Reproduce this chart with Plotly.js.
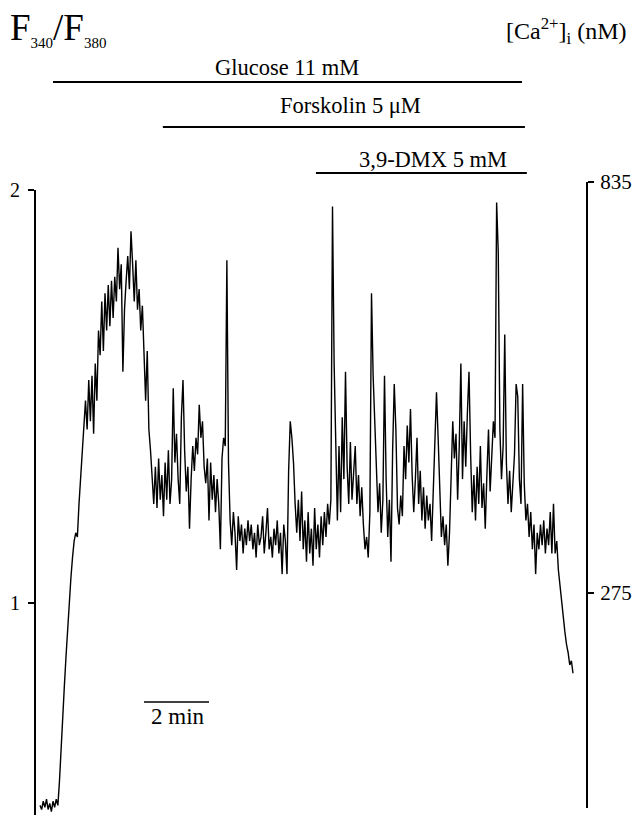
<!DOCTYPE html>
<html><head><meta charset="utf-8">
<script src="https://cdn.plot.ly/plotly-3.0.1.min.js"></script>
<style>html,body{margin:0;padding:0;background:#fff}</style>
</head><body><div id="chart" style="width:637px;height:818px"></div>
<script>
// F340/F380 ratio, sampled every 0.05 min (3 s), starting at t = 0
const ratio = [
0.51,0.50,0.52,0.505,0.525,0.50,0.515,0.495,0.52,0.505,0.525,0.51,
0.57,0.66,0.74,0.80,0.87,0.94,1.01,1.06,1.11,1.15,
1.17,1.16,1.24,1.31,1.38,1.43,
1.49,1.42,1.54,1.44,1.55,1.41,1.58,1.49,1.66,1.60,1.73,1.61,
1.75,1.66,1.77,1.67,1.78,1.69,1.79,1.73,1.86,1.76,
1.82,1.56,1.71,1.78,1.84,1.76,1.90,1.82,1.73,1.83,
1.71,1.76,1.66,1.72,1.59,1.49,1.61,1.42,1.37,1.30,
1.24,1.33,1.23,1.35,1.25,1.31,1.21,1.34,1.25,1.37,
1.24,1.30,1.52,1.34,1.41,1.30,1.24,1.45,1.54,1.37,
1.27,1.33,1.18,1.30,1.38,1.32,1.40,1.36,1.48,1.40,
1.44,1.33,1.29,1.35,1.20,1.34,1.25,1.31,1.22,1.30,
1.24,1.13,1.35,1.40,1.38,1.83,1.34,1.20,1.14,1.22,
1.17,1.08,1.21,1.15,1.19,1.12,1.18,1.14,1.20,1.15,
1.19,1.13,1.17,1.11,1.19,1.14,1.16,1.21,1.12,1.17,
1.23,1.13,1.16,1.11,1.18,1.14,1.20,1.12,1.17,1.07,
1.19,1.15,1.07,1.32,1.44,1.40,1.34,1.24,1.17,1.25,
1.15,1.27,1.13,1.20,1.10,1.22,1.12,1.18,1.09,1.23,
1.13,1.19,1.11,1.21,1.14,1.22,1.16,1.24,1.19,1.25,
1.96,1.58,1.36,1.20,1.38,1.22,1.45,1.30,1.56,1.33,
1.24,1.39,1.25,1.33,1.38,1.24,1.31,1.21,1.28,1.19,
1.13,1.16,1.11,1.22,1.75,1.55,1.43,1.33,1.22,1.29,
1.17,1.25,1.55,1.30,1.16,1.25,1.10,1.37,1.53,1.42,
1.23,1.19,1.26,1.21,1.38,1.30,1.43,1.34,1.47,1.31,
1.22,1.30,1.40,1.24,1.32,1.20,1.28,1.18,1.26,1.20,
1.24,1.15,1.27,1.36,1.51,1.40,1.28,1.16,1.21,1.14,
1.19,1.09,1.17,1.32,1.44,1.35,1.41,1.25,1.38,1.58,
1.30,1.44,1.33,1.46,1.56,1.36,1.22,1.31,1.20,1.33,
1.24,1.38,1.23,1.29,1.18,1.31,1.42,1.27,1.36,1.44,
1.40,1.97,1.85,1.42,1.30,1.38,1.65,1.34,1.24,1.32,
1.22,1.30,1.36,1.53,1.50,1.30,1.24,1.53,1.29,1.20,
1.24,1.16,1.22,1.13,1.19,1.07,1.17,1.13,1.19,1.14,
1.20,1.12,1.18,1.14,1.22,1.12,1.24,1.12,1.15,1.08,
1.04,1.00,0.97,0.93,0.90,0.88,0.85,0.86,0.83
];
const sampleStartMin = 0;
const sampleStepMin = 0.05;

const leftTicks = [1, 2];
const rightTicks = [275, 835];
const leftTitle = "F<sub><span style='font-size:15px'>340</span></sub>/F<sub><span style='font-size:15px'>380</span></sub>";
const rightTitle = "[Ca<sup>2+</sup>]<sub>i</sub> (nM)";

const treatmentLabels = ["Glucose 11 mM", "Forskolin 5 μM", "3,9-DMX 5 mM"];
const treatmentStart = [0.40, 3.78, 8.49];
const treatmentEnd = [14.83, 14.92, 14.98];
const scaleBarStart = 3.2;
const scaleBarMinutes = 2;
const scaleBarLabel = "2 min";

// ---- layout geometry ----
const W = 637, H = 818;
const plotL = 35, plotR = 587, plotT = 182, plotB = 815;
const pxPerMin = 32.5;
const traceStartPx = 40;
const xRange = [(plotL - traceStartPx) / pxPerMin, (plotR - traceStartPx) / pxPerMin];
const yRange = [0.4867, 2.0194];
const y2Range = [-27.5, 835];
const py = p => (plotB - p) / (plotB - plotT);
const pxp = p => (p - plotL) / (plotR - plotL);

const FONT = "Liberation Serif, Times New Roman, serif";
const barLineY = [82, 127, 173];
const labelY = [67.5, 105.5, 159.5];
const labelX = [7.6, 9.54, 12.09];

const shapes = [];
shapes.push({type:'line', xref:'paper', yref:'y', x0:0, x1:0, y0:yRange[0], y1:leftTicks[1], line:{color:'black', width:2}});
shapes.push({type:'line', xref:'paper', yref:'y2', x0:1, x1:1, y0:-18, y1:rightTicks[1], line:{color:'black', width:2}});
for (let k = 0; k < treatmentLabels.length; k++) {
  shapes.push({type:'line', xref:'x', yref:'paper', x0:treatmentStart[k], x1:treatmentEnd[k], y0:py(barLineY[k]), y1:py(barLineY[k]), line:{color:'black', width:2}});
}
shapes.push({type:'line', xref:'x', yref:'paper', x0:scaleBarStart, x1:scaleBarStart + scaleBarMinutes, y0:py(702), y1:py(702), line:{color:'black', width:1.6}});

const annotations = [];
for (let k = 0; k < treatmentLabels.length; k++) {
  annotations.push({text:treatmentLabels[k], xref:'x', yref:'paper', x:labelX[k], y:py(labelY[k]), xanchor:'center', yanchor:'middle', showarrow:false, font:{family:FONT, size:22.5, color:'black'}});
}
annotations.push({text:scaleBarLabel, xref:'x', yref:'paper', x:scaleBarStart + scaleBarMinutes/2 + 0.05, y:py(716), xanchor:'center', yanchor:'middle', showarrow:false, font:{family:FONT, size:23, color:'black'}});
annotations.push({text:leftTitle, xref:'paper', yref:'paper', x:pxp(8), y:py(29), xanchor:'left', yanchor:'middle', showarrow:false, font:{family:FONT, size:37, color:'black'}});
annotations.push({text:rightTitle, xref:'paper', yref:'paper', x:pxp(504), y:py(31), xanchor:'left', yanchor:'middle', showarrow:false, font:{family:FONT, size:24, color:'black'}});

const data = [
  {type:'scatter', mode:'lines', x0:sampleStartMin, dx:sampleStepMin, y:ratio, line:{color:'black', width:1.4}, hoverinfo:'skip', showlegend:false},
  {type:'scatter', mode:'lines', x:[], y:[], yaxis:'y2', showlegend:false, hoverinfo:'skip'}
];

const layout = {
  width: W, height: H,
  margin: {l: plotL, r: W - plotR, t: plotT, b: H - plotB, pad: 0},
  paper_bgcolor: 'white', plot_bgcolor: 'white',
  showlegend: false,
  xaxis: {range: xRange, visible: false, fixedrange: true},
  yaxis: {range: yRange, tickvals: leftTicks, ticktext: leftTicks.map(String), ticks: 'outside', ticklen: 6, tickwidth: 1.5, tickcolor: 'black',
          showline: false, showgrid: false, zeroline: false, ticklabelstandoff: 4, tickfont: {family: FONT, size: 20, color: 'black'}},
  yaxis2: {range: y2Range, overlaying: 'y', side: 'right', tickvals: rightTicks, ticktext: rightTicks.map(String), ticks: 'outside', ticklen: 6, tickwidth: 1.5, tickcolor: 'black',
           showline: false, showgrid: false, zeroline: false, ticklabelstandoff: 2, tickfont: {family: FONT, size: 21, color: 'black'}},
  shapes: shapes,
  annotations: annotations
};

Plotly.newPlot('chart', data, layout, {displayModeBar: false, staticPlot: true});
</script>
</body></html>
